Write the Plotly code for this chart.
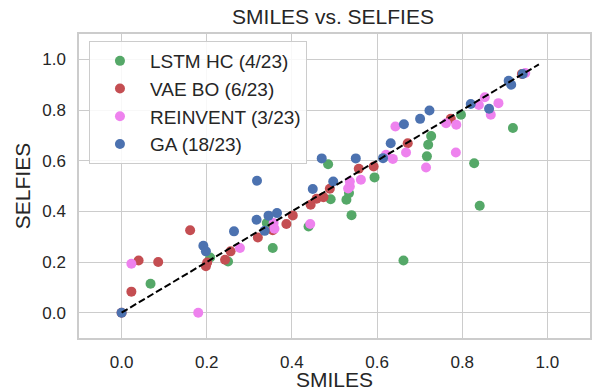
import plotly.graph_objects as go

# Per-method scores: (SMILES, SELFIES) pairs
lstm_smiles = [0.068, 0.208, 0.250, 0.341, 0.355, 0.439, 0.485, 0.491, 0.528, 0.534,
               0.540, 0.594, 0.662, 0.717, 0.720, 0.727, 0.797, 0.828, 0.841, 0.919]
lstm_selfies = [0.114, 0.218, 0.202, 0.354, 0.255, 0.340, 0.586, 0.448, 0.446, 0.472,
                0.385, 0.534, 0.206, 0.617, 0.663, 0.697, 0.781, 0.590, 0.422, 0.729]

vae_smiles = [0.0, 0.023, 0.040, 0.086, 0.161, 0.198, 0.201, 0.243, 0.256, 0.320, 0.355,
              0.387, 0.402, 0.444, 0.458, 0.474, 0.489, 0.557, 0.592, 0.672, 0.773, 0.940]
vae_selfies = [0.0, 0.083, 0.206, 0.200, 0.325, 0.183, 0.198, 0.209, 0.242, 0.297, 0.325,
               0.350, 0.384, 0.426, 0.450, 0.456, 0.489, 0.568, 0.577, 0.669, 0.765, 0.942]

reinvent_smiles = [0.023, 0.180, 0.278, 0.357, 0.359, 0.443, 0.532, 0.536, 0.536, 0.562,
                   0.621, 0.637, 0.643, 0.668, 0.715, 0.762, 0.785, 0.786, 0.839, 0.853,
                   0.867, 0.885, 0.948]
reinvent_selfies = [0.193, 0.0, 0.255, 0.354, 0.331, 0.350, 0.490, 0.498, 0.518, 0.525,
                    0.623, 0.607, 0.735, 0.632, 0.573, 0.748, 0.632, 0.742, 0.820, 0.850,
                    0.781, 0.827, 0.946]

ga_smiles = [0.0, 0.192, 0.198, 0.264, 0.317, 0.318, 0.336, 0.345, 0.365, 0.449, 0.470,
             0.497, 0.550, 0.614, 0.632, 0.663, 0.701, 0.723, 0.820, 0.863, 0.909, 0.915,
             0.942]
ga_selfies = [0.0, 0.264, 0.242, 0.321, 0.367, 0.521, 0.323, 0.383, 0.393, 0.488, 0.609,
              0.518, 0.609, 0.610, 0.669, 0.744, 0.765, 0.798, 0.824, 0.805, 0.915, 0.900,
              0.942]

series_names = ["LSTM HC (4/23)", "VAE BO (6/23)", "REINVENT (3/23)", "GA (18/23)"]
series_colors = ["#55A868", "#C44E52", "#EE82EE", "#4C72B0"]

diag = [0.0, 0.98]
tick_vals = [0.0, 0.2, 0.4, 0.6, 0.8, 1.0]
tick_text = ["0.0", "0.2", "0.4", "0.6", "0.8", "1.0"]

FONT = "Arial, Liberation Sans, sans-serif"
INK = "#262626"
GRID = "#cccccc"

fig = go.Figure()
for name, color, xs, ys in zip(
    series_names, series_colors,
    [lstm_smiles, vae_smiles, reinvent_smiles, ga_smiles],
    [lstm_selfies, vae_selfies, reinvent_selfies, ga_selfies],
):
    fig.add_trace(go.Scatter(
        x=xs, y=ys, mode="markers", name=name, legendgroup=name,
        marker=dict(color=color, size=10, line=dict(width=0)),
    ))

fig.add_trace(go.Scatter(
    x=diag, y=diag, mode="lines", showlegend=False,
    line=dict(color="black", width=2, dash="7px,3px"),
))

axis_common = dict(
    range=[-0.1, 1.1], tickvals=tick_vals, ticktext=tick_text,
    showgrid=True, gridcolor=GRID, gridwidth=1.3,
    zeroline=False, showline=True, linecolor=GRID, linewidth=1.5, mirror=True,
    ticks="", tickfont=dict(size=17, color=INK, family=FONT),
)

fig.update_layout(
    width=592, height=391,
    margin=dict(l=79, r=0, t=34, b=53),
    paper_bgcolor="white", plot_bgcolor="white",
    font=dict(family=FONT, color=INK),
    title=dict(text="SMILES vs. SELFIES", x=0.5625, xanchor="center",
               y=0.957, yanchor="middle",
               font=dict(size=21, color=INK, family=FONT)),
    xaxis=dict(**axis_common, ticklabelstandoff=8,
               title=dict(text="SMILES", font=dict(size=21, color=INK), standoff=4)),
    yaxis=dict(**axis_common, ticklabelstandoff=8,
               title=dict(text="SELFIES", font=dict(size=21, color=INK), standoff=6)),
    legend=dict(
        x=0.0195, y=0.977, xanchor="left", yanchor="top",
        bgcolor="rgba(255,255,255,0.85)", bordercolor=GRID, borderwidth=1,
        font=dict(size=19, color=INK, family=FONT),
        tracegroupgap=0, itemwidth=50,
    ),
    showlegend=True,
)

fig.write_html("out.html")
